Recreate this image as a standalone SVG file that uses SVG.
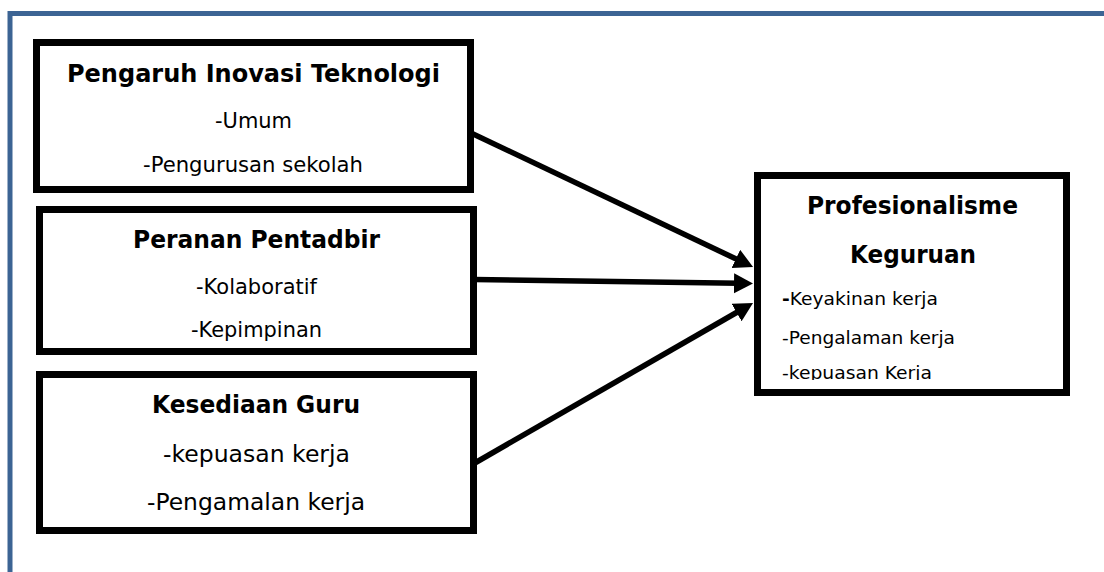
<svg xmlns="http://www.w3.org/2000/svg" width="1104" height="572" viewBox="0 0 1104 572">
<style>
.box{fill:#fff;stroke:#000;stroke-width:7}
.t{font-family:"DejaVu Sans","Liberation Sans",sans-serif;fill:#000}
.b{font-weight:bold;font-size:24px}
.s{font-size:21.5px}
.m{font-size:23.5px}
.r{font-size:18.5px}
.conn{stroke:#000;stroke-width:5.5;fill:none;marker-end:url(#ah)}
</style>
<defs>
<marker id="ah" markerUnits="userSpaceOnUse" markerWidth="22" markerHeight="22" refX="5" refY="10" orient="auto">
<path d="M0,0 L19,10 L0,20 z" fill="#000"/>
</marker>
<clipPath id="clip4"><rect x="760" y="178" width="304" height="202"/></clipPath>
</defs>
<rect width="1104" height="572" fill="#fff"/>
<path d="M10,572 L10,13.5 L1104,13.5" fill="none" stroke="#3c6494" stroke-width="5"/>

<g id="node-inovasi">
<rect class="box" x="36.5" y="42.5" width="434" height="147"/>
<text class="t b" x="67" y="82" textLength="373" lengthAdjust="spacingAndGlyphs">Pengaruh Inovasi Teknologi</text>
<text class="t s" x="215" y="128" textLength="77" lengthAdjust="spacingAndGlyphs">-Umum</text>
<text class="t s" x="143" y="172" textLength="220" lengthAdjust="spacingAndGlyphs">-Pengurusan sekolah</text>
</g>

<g id="node-pentadbir">
<rect class="box" x="39.5" y="209.5" width="434" height="142"/>
<text class="t b" x="133" y="248" textLength="247" lengthAdjust="spacingAndGlyphs">Peranan Pentadbir</text>
<text class="t s" x="196" y="294" textLength="121" lengthAdjust="spacingAndGlyphs">-Kolaboratif</text>
<text class="t s" x="191" y="337" textLength="131" lengthAdjust="spacingAndGlyphs">-Kepimpinan</text>
</g>

<g id="node-guru">
<rect class="box" x="39.5" y="374.5" width="434" height="156"/>
<text class="t b" x="152" y="413" textLength="208" lengthAdjust="spacingAndGlyphs">Kesediaan Guru</text>
<text class="t m" x="163" y="462" textLength="187" lengthAdjust="spacingAndGlyphs">-kepuasan kerja</text>
<text class="t m" x="147" y="510" textLength="218" lengthAdjust="spacingAndGlyphs">-Pengamalan kerja</text>
</g>

<g id="node-profesionalisme">
<rect class="box" x="757.5" y="175.5" width="309" height="217"/>
<text class="t b" x="807" y="214" textLength="211" lengthAdjust="spacingAndGlyphs">Profesionalisme</text>
<text class="t b" x="850" y="263" textLength="126" lengthAdjust="spacingAndGlyphs">Keguruan</text>
<text class="t r" x="782" y="305" textLength="156" lengthAdjust="spacingAndGlyphs"><tspan font-weight="bold">-</tspan>Keyakinan kerja</text>
<text class="t r" x="782" y="344" textLength="173" lengthAdjust="spacingAndGlyphs">-Pengalaman kerja</text>
<text class="t r" x="782" y="379" textLength="150" lengthAdjust="spacingAndGlyphs" clip-path="url(#clip4)">-kepuasan Kerja</text>
</g>

<g id="connectors">
<line class="conn" x1="471" y1="133" x2="740.4" y2="261"/>
<line class="conn" x1="474" y1="279.5" x2="739" y2="283.3"/>
<line class="conn" x1="474" y1="463.5" x2="740.9" y2="310"/>
</g>
</svg>
